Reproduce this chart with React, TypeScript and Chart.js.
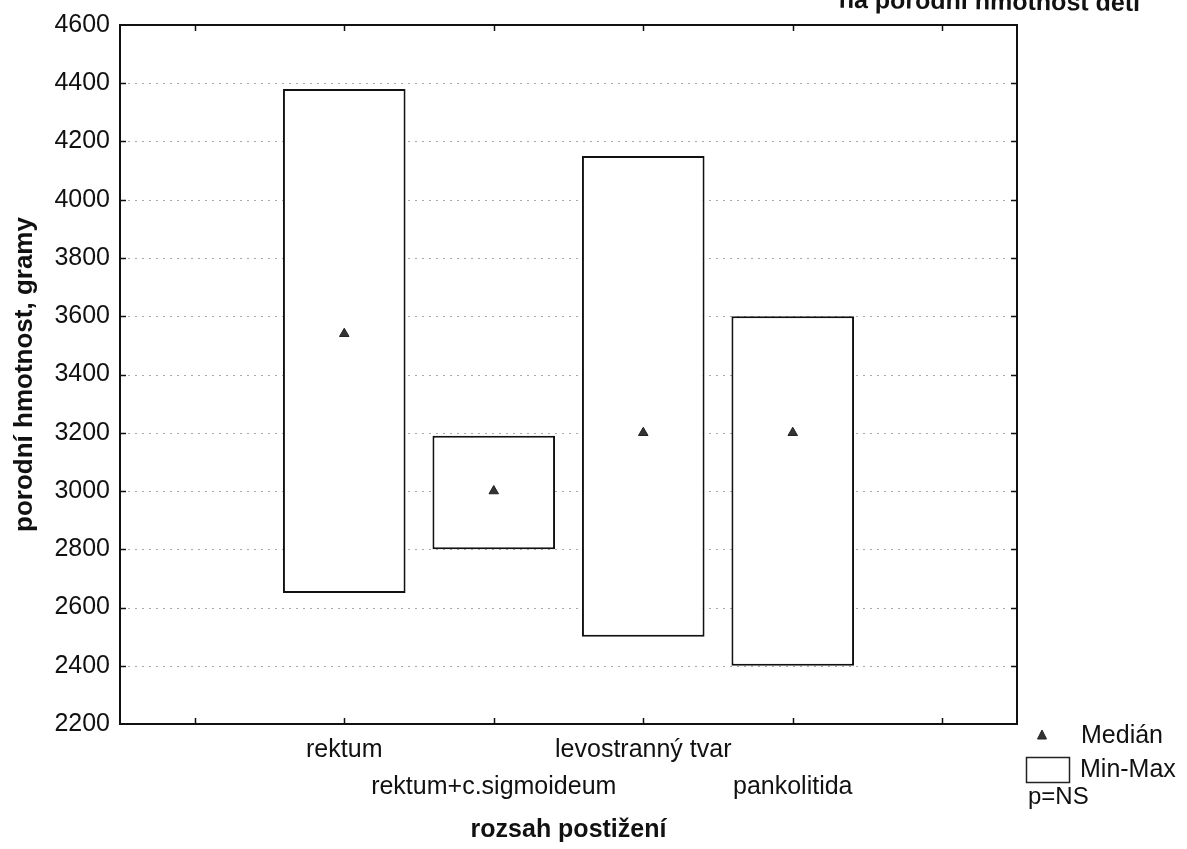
import React, { useEffect, useRef } from 'react';
import { Chart, registerables } from 'chart.js';

Chart.register(...registerables);

// ---- data ----
const categories = ['', 'rektum', 'rektum+c.sigmoideum', 'levostranný tvar', 'pankolitida', ''];
const minValues = [null, 2650, 2800, 2500, 2400, null];
const maxValues = [null, 4380, 3190, 4150, 3600, null];
const medianValues = [null, 3540, 3000, 3200, 3200, null];
const yTickValues = [2200, 2400, 2600, 2800, 3000, 3200, 3400, 3600, 3800, 4000, 4200, 4400, 4600];

const titleText = 'na porodní hmotnost dětí';
const xTitle = 'rozsah postižení';
const yTitle = 'porodní hmotnost, gramy';
const legendLabels = ['Medián', 'Min-Max'];
const noteText = 'p=NS';

const FONT = '"Liberation Sans", Arial, Helvetica, sans-serif';

export default function App() {
  const ref = useRef<HTMLCanvasElement>(null);

  useEffect(() => {
    document.body.style.margin = '0';
    const canvas = ref.current;
    if (!canvas) return;

    const decor = {
      id: 'decor',
      beforeDatasetsDraw(chart: any) {
        const { ctx, chartArea: a } = chart;
        const y = chart.scales.y;
        ctx.save();
        ctx.strokeStyle = '#a8a8a8';
        ctx.lineWidth = 1;
        ctx.setLineDash([2, 5]);
        yTickValues.slice(1, -1).forEach((v) => {
          const py = Math.round(y.getPixelForValue(v)) + 0.5;
          ctx.beginPath();
          ctx.moveTo(a.left + 8, py);
          ctx.lineTo(a.right - 8, py);
          ctx.stroke();
        });
        ctx.restore();
      },
      afterDatasetsDraw(chart: any) {
        const { ctx, chartArea: a } = chart;
        const x = chart.scales.x;
        const y = chart.scales.y;
        ctx.save();
        ctx.strokeStyle = '#111';
        ctx.lineWidth = 2;
        ctx.strokeRect(a.left, a.top, a.right - a.left, a.bottom - a.top);
        ctx.lineWidth = 1.5;
        const len = 6;
        categories.forEach((_, i) => {
          const px = Math.round(x.getPixelForValue(i)) + 0.5;
          ctx.beginPath();
          ctx.moveTo(px, a.bottom);
          ctx.lineTo(px, a.bottom - len);
          ctx.moveTo(px, a.top);
          ctx.lineTo(px, a.top + len);
          ctx.stroke();
        });
        yTickValues.slice(1, -1).forEach((v) => {
          const py = Math.round(y.getPixelForValue(v)) + 0.5;
          ctx.beginPath();
          ctx.moveTo(a.left, py);
          ctx.lineTo(a.left + len, py);
          ctx.moveTo(a.right, py);
          ctx.lineTo(a.right - len, py);
          ctx.stroke();
        });
        ctx.restore();
      },
      afterDraw(chart: any) {
        const { ctx, chartArea: a } = chart;
        ctx.save();
        // partially cut-off title (scan is slightly rotated)
        ctx.translate(1140, 11);
        ctx.rotate(0.0105);
        ctx.fillStyle = '#111';
        ctx.font = `bold 25px ${FONT}`;
        ctx.textAlign = 'right';
        ctx.textBaseline = 'alphabetic';
        ctx.fillText(titleText, 0, 0);
        ctx.restore();

        // legend
        ctx.save();
        const lx = a.right;
        ctx.fillStyle = '#333';
        ctx.strokeStyle = '#222';
        ctx.lineWidth = 1;
        const tx = lx + 25, ty = 735;
        ctx.beginPath();
        ctx.moveTo(tx, ty - 5);
        ctx.lineTo(tx + 4.5, ty + 4);
        ctx.lineTo(tx - 4.5, ty + 4);
        ctx.closePath();
        ctx.fill();
        ctx.stroke();
        ctx.lineWidth = 1.5;
        ctx.strokeRect(lx + 9.5, 757.5, 43, 25);
        ctx.fillStyle = '#111';
        ctx.font = `25px ${FONT}`;
        ctx.textAlign = 'left';
        ctx.textBaseline = 'middle';
        ctx.fillText(legendLabels[0], lx + 64, 736);
        ctx.fillText(legendLabels[1], lx + 63, 770);
        ctx.font = `24px ${FONT}`;
        ctx.fillText(noteText, lx + 11, 797);
        ctx.restore();
      },
    };

    const chart = new Chart(canvas, {
      type: 'bar',
      data: {
        labels: categories,
        datasets: [
          {
            type: 'line',
            label: 'Medián',
            data: medianValues,
            showLine: false,
            pointStyle: 'triangle',
            pointRadius: 5.5,
            pointBackgroundColor: '#333',
            pointBorderColor: '#222',
            pointBorderWidth: 1,
            order: 0,
          } as any,
          {
            type: 'bar',
            label: 'Min-Max',
            data: minValues.map((mn, i) => (mn === null ? null : [mn, maxValues[i] as number])) as any,
            backgroundColor: '#ffffff',
            borderColor: '#111',
            borderWidth: 2,
            borderSkipped: false,
            categoryPercentage: 1,
            barPercentage: 0.82,
            order: 1,
          } as any,
        ],
      },
      options: {
        responsive: false,
        animation: false,
        devicePixelRatio: 1,
        layout: { padding: { top: 24, right: 170, bottom: 0, left: 0 } },
        plugins: {
          legend: { display: false },
          title: { display: false },
          tooltip: { enabled: false },
        },
        scales: {
          x: {
            type: 'category',
            offset: true,
            grid: { display: false, offset: false, drawTicks: false },
            border: { display: false },
            ticks: {
              autoSkip: false,
              maxRotation: 0,
              minRotation: 0,
              padding: 8,
              color: '#111',
              font: { family: FONT, size: 25, lineHeight: 1.48 },
              callback: (_v: any, i: number) => (i % 2 === 0 && categories[i] ? ['', categories[i]] : categories[i]),
            },
            title: {
              display: true,
              text: xTitle,
              color: '#111',
              font: { family: FONT, size: 25, weight: 'bold', lineHeight: 1.2 },
              padding: { top: 0, bottom: 4 },
            },
            afterFit: (s: any) => {
              s.height = 125;
            },
          },
          y: {
            type: 'linear',
            min: yTickValues[0],
            max: yTickValues[yTickValues.length - 1],
            grid: { display: false, drawTicks: false },
            border: { display: false },
            afterBuildTicks: (s: any) => {
              s.ticks = yTickValues.map((v) => ({ value: v }));
            },
            ticks: {
              padding: 10,
              color: '#111',
              font: { family: FONT, size: 25, lineHeight: 1.2 },
              callback: (v: any) => String(v),
            },
            title: {
              display: true,
              text: yTitle,
              color: '#111',
              font: { family: FONT, size: 26, weight: 'bold', lineHeight: 1.2 },
              padding: { top: 9, bottom: 0 },
            },
            afterFit: (s: any) => {
              s.width = 120;
            },
          },
        },
      },
      plugins: [decor],
    });

    return () => chart.destroy();
  }, []);

  return (
    <canvas
      ref={ref}
      width={1187}
      height={849}
      style={{ display: 'block', width: 1187, height: 849, background: '#fff' }}
    />
  );
}
